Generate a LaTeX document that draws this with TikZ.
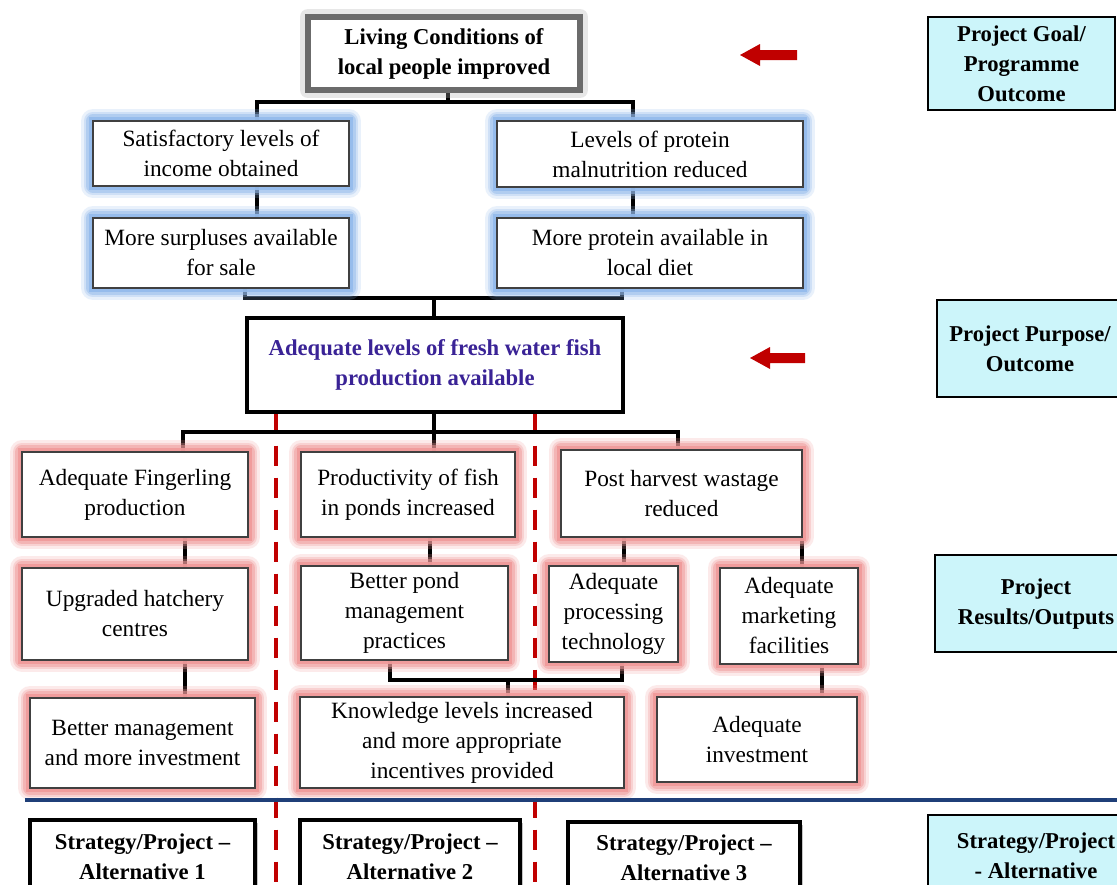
\documentclass[tikz,border=0pt]{standalone}
\usepackage{fontspec}
\setmainfont{Liberation Serif}
\usetikzlibrary{calc,shadows}
\pgfdeclarelayer{bg}
\pgfsetlayers{bg,main}
\definecolor{glowb}{HTML}{94BBEC}
\definecolor{glowr}{HTML}{F09A9A}
\definecolor{cyanf}{HTML}{CCF5FA}
\definecolor{darkred}{HTML}{C00000}
\definecolor{navyline}{HTML}{1F3F78}
\definecolor{purp}{HTML}{3A2396}
\definecolor{bord}{HTML}{404040}
\tikzset{
  sz/.style 2 args={minimum width=#1*0.75pt, minimum height=#2*0.75pt},
  base/.style={rectangle, align=center, inner sep=1pt, font=\fontsize{17.5}{22.5}\selectfont, fill=white},
  boldf/.style={font=\fontsize{17}{22.5}\selectfont\bfseries},
  blueglow/.style={base, draw=bord, line width=1pt,
    preaction={draw=glowb, line width=18pt, draw opacity=0.2, line join=round},
    preaction={draw=glowb, line width=14pt, draw opacity=0.3, line join=round},
    preaction={draw=glowb, line width=10pt, draw opacity=0.5, line join=round},
    preaction={draw=glowb, line width=6pt, draw opacity=0.9}},
  redglow/.style={base, draw=bord, line width=1pt,
    preaction={draw=glowr, line width=18pt, draw opacity=0.2, line join=round},
    preaction={draw=glowr, line width=14pt, draw opacity=0.3, line join=round},
    preaction={draw=glowr, line width=10pt, draw opacity=0.5, line join=round},
    preaction={draw=glowr, line width=6pt, draw opacity=0.9}},
  topbox/.style={base, boldf, draw=black!58, line width=4pt,
    preaction={draw=black!30, line width=12pt, draw opacity=0.3, line join=round}},
  midbox/.style={base, boldf, draw=black, line width=2.6pt, text=purp},
  altbox/.style={base, boldf, draw=black, line width=3pt,
    drop shadow={shadow xshift=2.5pt, shadow yshift=-2.5pt, fill=black!45, opacity=0.5}},
  sidebox/.style={rectangle, draw=black, line width=1.8pt, fill=cyanf},
  sidetext/.style={align=center, inner sep=0pt, boldf},
  conn/.style={line width=3pt, black},
  split/.style={line width=2.3pt, darkred, dash pattern=on 15pt off 9pt},
  sep/.style={line width=2.3pt, navyline}
}
\begin{document}
\begin{tikzpicture}[x=0.75pt, y=-0.75pt]
\useasboundingbox (0,0) rectangle (1117,885);
\clip (0,0) rectangle (1117,885);

% ---- goal level
\node[topbox, sz={272}{73}] (top) at (444,53.5) {Living Conditions of\\local people improved};
\fill[darkred] (797,50) -- (760,50) -- (760,44) -- (740,55) -- (760,66) -- (760,60) -- (797,60) -- cycle;
\node[sidebox, sz={187}{93}] (goal) at (1021.5,63.5) {};
\node[sidetext] (goalt) at (1021.5,64) {Project Goal/\\Programme\\Outcome};

\node[blueglow, sz={256}{65}] (sat) at (221,153.5) {Satisfactory levels of\\income obtained};
\node[blueglow, sz={306}{66}] (prot) at (650,154) {Levels of protein\\malnutrition reduced};
\node[blueglow, sz={256}{70}] (surp) at (221,253) {More surpluses available\\for sale};
\node[blueglow, sz={306}{70}] (pdiet) at (650,253) {More protein available in\\local diet};

% ---- purpose level
\node[midbox, sz={376}{94}] (adeq) at (435,365) {Adequate levels of fresh water fish\\production available};
\fill[darkred] (805,353) -- (770,353) -- (770,347) -- (750,358) -- (770,369) -- (770,363) -- (805,363) -- cycle;
\node[sidebox, sz={190}{97}] (purpose) at (1032,348.5) {};
\node[sidetext] (purposet) at (1030,349) {Project Purpose/\\Outcome};

% ---- results level
\node[redglow, sz={226}{85}] (fing) at (135,494.5) {Adequate Fingerling\\production};
\node[redglow, sz={214}{85}] (prod) at (408,494.5) {Productivity of fish\\in ponds increased};
\node[redglow, sz={241}{87}] (post) at (681.5,493.5) {Post harvest wastage\\reduced};

\node[redglow, sz={226}{92}] (hatch) at (135,614) {Upgraded hatchery\\centres};
\node[redglow, sz={207}{94}] (pond) at (404.5,613) {Better pond\\management\\practices};
\node[redglow, sz={129}{96}] (proc) at (613.5,614) {Adequate\\processing\\technology};
\node[redglow, sz={138}{96}] (mkt) at (789,616) {Adequate\\marketing\\facilities};
\node[sidebox, sz={190}{97}] (results) at (1030,603.5) {};
\node[sidetext] (resultst) at (1036,604) {Project\\Results/Outputs};

\node[redglow, sz={225}{90}] (bmgmt) at (142.5,743) {Better management\\and more investment};
\node[redglow, sz={324}{91}] (know) at (462,742.5) {Knowledge levels increased\\and more appropriate\\incentives provided};
\node[redglow, sz={200}{85}] (ainv) at (757,739.5) {Adequate\\investment};

% ---- strategy level
\node[altbox, sz={225}{80}] (alt1) at (142.5,860) {};
\node[altbox, sz={220}{80}] (alt2) at (410,860) {};
\node[altbox, sz={232}{80}] (alt3) at (684,862) {};
\node[sidetext] (alt1t) at (142.5,857) {Strategy/Project --\\Alternative 1};
\node[sidetext] (alt2t) at (410,857) {Strategy/Project --\\Alternative 2};
\node[sidetext] (alt3t) at (684,858) {Strategy/Project --\\Alternative 3};
\node[sidebox, sz={197}{90}] (strat) at (1026.5,860) {};
\node[sidetext] (stratt) at (1036,856) {Strategy/Project\\- Alternative};

% ---- connectors
\coordinate (xa) at (257,0);
\coordinate (xb) at (633,0);
\coordinate (xc) at (245,0);
\coordinate (xd) at (622,0);
\coordinate (j1) at (448,102);
\coordinate (j2) at (434,298);
\coordinate (j3) at (434,432);
\coordinate (j4) at (508,680);
\coordinate (xf) at (185,0);
\coordinate (xg) at (430,0);
\coordinate (xh) at (678,0);
\coordinate (xi) at (624,0);
\coordinate (xj) at (802,0);
\coordinate (xk) at (390,0);
\coordinate (xl) at (822,0);
\coordinate (xm) at (183,0);
\coordinate (s1) at (276,885);
\coordinate (s2) at (535,885);
\begin{pgfonlayer}{bg}
\fill[white] (0,0) rectangle (1117,885);
\draw[split] (adeq.south -| s1) -- (s1);
\draw[split] (adeq.south -| s2) -- (s2);
\draw[conn] (top.south -| j1) -- (j1);
\draw[conn] (sat.north -| xa) |- (j1) -| (prot.north -| xb);
\draw[conn] (sat.south -| xa) -- (surp.north -| xa);
\draw[conn] (prot.south -| xb) -- (pdiet.north -| xb);
\draw[conn] (surp.south -| xc) |- (j2) -| (pdiet.south -| xd);
\draw[conn] (j2) -- (adeq.north -| j2);
\draw[conn] (adeq.south -| j3) -- (j3);
\draw[conn] (fing.north -| xm) |- (j3) -| (post.north -| xh);
\draw[conn] (j3) -- (prod.north -| j3);
\draw[conn] (fing.south -| xf) -- (hatch.north -| xf);
\draw[conn] (prod.south -| xg) -- (pond.north -| xg);
\draw[conn] (post.south -| xi) -- (proc.north -| xi);
\draw[conn] (post.south -| xj) -- (mkt.north -| xj);
\draw[conn] (hatch.south -| xf) -- (bmgmt.north -| xf);
\draw[conn] (pond.south -| xk) |- (j4) -| (proc.south -| xd);
\draw[conn] (j4) -- (know.north -| j4);
\draw[conn] (mkt.south -| xl) -- (ainv.north -| xl);
\end{pgfonlayer}

% ---- separator
\coordinate (hl) at (25,800);
\coordinate (hr) at (1117,800);
\draw[sep] (hl) -- (hr);
\end{tikzpicture}
\end{document}
